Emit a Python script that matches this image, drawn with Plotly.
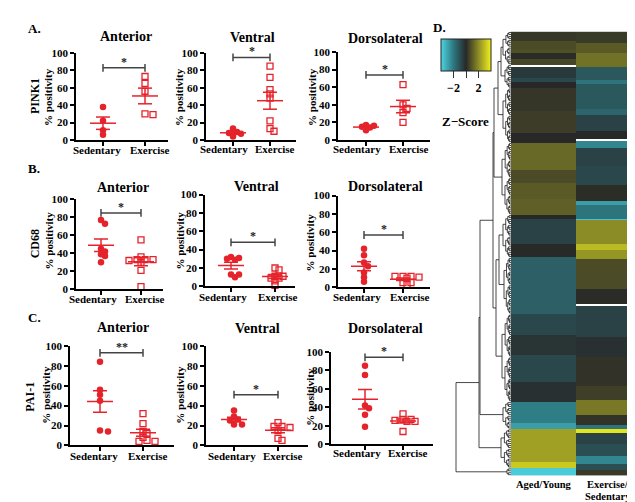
import numpy as np
import plotly.graph_objects as go

W, H = 635, 502
SERIF = "Liberation Serif"
RED = "#E5232B"

groups = ["Sedentary", "Exercise"]
regions = ["Anterior", "Ventral", "Dorsolateral"]
proteins = ["PINK1", "CD68", "PAI-1"]

# ---- % positivity values ----
pink1_anterior_sed = [38, 22, 11, 6]
pink1_anterior_ex = [73, 65, 56, 29, 30]
pink1_ventral_sed = [13, 9, 8, 7, 4]
pink1_ventral_ex = [85, 72, 58, 53, 48, 22, 13, 10]
pink1_dorsolateral_sed = [17, 16, 15, 14, 11]
pink1_dorsolateral_ex = [63, 40, 36, 31, 20]

cd68_anterior_sed = [77, 73, 45, 42, 39, 37, 30]
cd68_anterior_ex = [55, 36, 33, 33, 32, 33, 30, 21, 3]
cd68_ventral_sed = [32, 29, 30, 31, 13, 10, 13]
cd68_ventral_ex = [18, 20, 11, 9, 9, 11, 6, 1]
cd68_dorsolateral_sed = [42, 35, 27, 23, 16, 11, 6]
cd68_dorsolateral_ex = [12, 11, 10, 12, 12, 5, 5, 3]

pai1_anterior_sed = [84, 56, 51, 45, 15, 14]
pai1_anterior_ex = [32, 22, 14, 12, 8, 5, 4, 4]
pai1_ventral_sed = [35, 29, 26, 25, 21, 21]
pai1_ventral_ex = [23, 19, 18, 19, 15, 7, 5]
pai1_dorsolateral_sed = [85, 75, 42, 39, 32, 19]
pai1_dorsolateral_ex = [33, 27, 25, 25, 26, 27, 14]

bracket_levels = [83, 95, 74, 85, 48, 57, 93, 51, 94]
bracket_stars = ["*", "*", "*", "*", "*", "*", "**", "*", "*"]

y_ticks = [0, 20, 40, 60, 80, 100]

# ---- heatmap z-scores, run-length encoded (rows top -> bottom) ----
aged_young_counts = [5, 4, 2, 3, 3, 1, 6, 2, 3, 12, 11, 5, 14, 7, 8, 8, 2, 13, 7, 29,
                     11, 10, 14, 10, 11, 3, 17, 3, 4]
aged_young_values = [0.3, 0.7, 0.8, 0.05, 0.6, None, -0.4, -0.8, 0.0, 0.26, 0.4, 0.0,
                     1.3, 0.7, 1.0, 1.1, 0.0, -0.65, -0.05, -1.4,
                     -0.8, -0.3, -0.8, -0.2, -2.1, -2.8, 2.4, 3.2, -3.8]
exercise_counts = [6, 5, 7, 7, 2, 13, 3, 8, 4, 1, 4, 9, 10, 8, 2, 7, 1, 12, 3, 5, 15, 8, 1,
                   16, 10, 15, 7, 8, 5, 2, 2, 6, 6, 4, 3, 3]
exercise_values = [0.36, 1.0, 1.45, -1.2, -1.9, -1.2, -1.55, -0.65, 0.0, None, -2.3, -0.65,
                   -0.8, 0.1, -2.8, -1.9, -3.6, 2.0, 2.9, 2.2, 0.7, 0.05, None,
                   -0.65, -0.2, 0.2, 0.45, 1.6, 0.2, -1.9, 3.7, -0.65, -0.95, -2.3, -0.95, 0.36]
heat_columns = ["Aged/Young", "Exercise/", "Sedentary"]
colorbar_ticks = [-2, 0, 2]
colorbar_ticktext = ["\u22122", "", "2"]

# dendrogram: leaf-cluster sizes (rows), their internal heights, and merge tree
cluster_sizes = [17, 12, 28, 37, 22, 29, 45, 14, 20, 4]
cluster_heights = [8, 6, 8, 9, 8, 7, 9, 8, 10, 4]
merge_tree = [[[[[[[0, 1, 10], 2, 13], 3, 17], [[4, 5, 12], 6, 15], 18], 7, 31], 8, 32], 9, 55]

series = [
    (pink1_anterior_sed, pink1_anterior_ex), (pink1_ventral_sed, pink1_ventral_ex),
    (pink1_dorsolateral_sed, pink1_dorsolateral_ex),
    (cd68_anterior_sed, cd68_anterior_ex), (cd68_ventral_sed, cd68_ventral_ex),
    (cd68_dorsolateral_sed, cd68_dorsolateral_ex),
    (pai1_anterior_sed, pai1_anterior_ex), (pai1_ventral_sed, pai1_ventral_ex),
    (pai1_dorsolateral_sed, pai1_dorsolateral_ex),
]

# ---- layout geometry (pixels): x0, x1, sed centre, ex centre, y top, y bottom ----
geo = [
    (68, 160, 95, 137, 40, 129),
    (198, 288, 225, 262, 40, 129),
    (330, 422, 358, 395, 39, 129),
    (68, 155, 93, 133, 190, 282),
    (197, 287, 223, 267, 185, 279),
    (330, 422, 356, 395, 186, 280),
    (62, 166, 92, 135, 340, 442),
    (198, 300, 226, 270, 340, 442),
    (323, 425, 357, 395, 346, 441),
]
# category label centres (pixels): sed x, ex x, y
label_pos = [
    (89, 142, 139), (216, 267, 138), (349, 401, 138),
    (85, 137, 292), (215, 270, 290), (349, 402, 290),
    (86, 140, 453), (224, 275, 453), (349, 400, 450),
]


def px2x(px):
    return px / W


def px2y(py):
    return 1 - py / H


def font(size, color="black", bold=True):
    return dict(family=SERIF, size=size, color=color, weight="bold" if bold else "normal")


def swarm(vals, ppu_y, ppu_x, step=4.0, mind=4.2):
    order = sorted(range(len(vals)), key=lambda i: -vals[i])
    placed = []
    offs = [0.0] * len(vals)
    for i in order:
        y = vals[i] * ppu_y
        for c in [0, 1, -1, 2, -2, 3, -3, 4, -4]:
            x = c * step
            if all((x - px) ** 2 + (y - py) ** 2 >= mind ** 2 for px, py in placed):
                break
        placed.append((x, y))
        offs[i] = x / ppu_x
    return offs


fig = go.Figure()
lay = {}
annotations = []

for k in range(9):
    n = k + 1
    sfx = "" if n == 1 else str(n)
    xa, ya = "x" + sfx, "y" + sfx
    x0, x1, cs, ce, yt, yb = geo[k]
    span = ce - cs
    ppu = (yb - yt) / 100.0
    sed, ex = series[k]
    for gi, (vals, sym) in enumerate([(sed, "circle"), (ex, "square-open")]):
        offs = swarm(vals, ppu, span)
        xs = [gi + o for o in offs]
        if sym == "circle":
            mk = dict(symbol="circle", size=6.5, color=RED, line=dict(width=0))
        else:
            mk = dict(symbol="square-open", size=6, color=RED, line=dict(width=1.3, color=RED))
        fig.add_trace(go.Scatter(x=xs, y=vals, mode="markers", marker=mk, xaxis=xa, yaxis=ya,
                                 cliponaxis=False, showlegend=False, hoverinfo="skip"))
        m = float(np.mean(vals))
        s = float(np.std(vals, ddof=1) / np.sqrt(len(vals)))
        wm, wc = 13.0 / span, 7.0 / span
        lx = [gi - wm, gi + wm, None, gi - wc, gi + wc, None, gi - wc, gi + wc, None, gi, gi]
        ly = [m, m, None, m + s, m + s, None, m - s, m - s, None, m - s, m + s]
        fig.add_trace(go.Scatter(x=lx, y=ly, mode="lines", line=dict(color=RED, width=1.5),
                                 xaxis=xa, yaxis=ya, cliponaxis=False, showlegend=False,
                                 hoverinfo="skip"))
    b = bracket_levels[k]
    d = 4.0 / ppu
    fig.add_trace(go.Scatter(x=[0, 1, None, 0, 0, None, 1, 1], y=[b, b, None, b - d, b + d, None, b - d, b + d],
                             mode="lines", line=dict(color="#444444", width=1.5), xaxis=xa, yaxis=ya,
                             cliponaxis=False, showlegend=False, hoverinfo="skip"))
    annotations.append(dict(x=0.5, y=b, xref=xa, yref=ya, text=bracket_stars[k], showarrow=False,
                            yanchor="bottom", yshift=-3, font=font(12, "#222222", bold=True)))
    lay["xaxis" + sfx] = dict(domain=[px2x(x0), px2x(x1)], range=[(x0 - cs) / span, (x1 - cs) / span],
                              anchor=ya, tickvals=[0, 1], showticklabels=False, ticks="outside",
                              ticklen=4, tickwidth=1.5, tickcolor="black", showline=True, linewidth=1.5,
                              linecolor="black", showgrid=False, zeroline=False, fixedrange=True)
    lay["yaxis" + sfx] = dict(domain=[px2y(yb), px2y(yt)], range=[0, 100], anchor=xa, tickvals=y_ticks,
                              ticks="outside", ticklen=4, tickwidth=1.5, tickcolor="black",
                              showline=True, linewidth=1.5, linecolor="black", showgrid=False,
                              zeroline=False, tickfont=font(11), fixedrange=True)
    lsx, lex, ly_ = label_pos[k]
    for t, lx_ in zip(groups, (lsx, lex)):
        annotations.append(dict(x=px2x(lx_), y=px2y(ly_), xref="paper", yref="paper", text=t,
                                showarrow=False, xanchor="center", yanchor="middle", font=font(11)))

# ---- heatmap ----
def expand(counts, values):
    out = []
    for c, v in zip(counts, values):
        out.extend([v] * c)
    return out

left = expand(aged_young_counts, aged_young_values)
right = expand(exercise_counts, exercise_values)
N = min(len(left), len(right))
z = [[left[i], right[i]] for i in range(N)]

colorscale = [[0.0, "rgb(78,212,226)"], [0.25, "rgb(45,120,128)"], [0.5, "rgb(40,40,40)"],
              [0.75, "rgb(140,140,38)"], [1.0, "rgb(242,242,28)"]]
fig.add_trace(go.Heatmap(
    z=z, x=[0, 1], y=list(range(N)), xaxis="x10", yaxis="y10", colorscale=colorscale,
    zmin=-4, zmax=4, hoverinfo="skip",
    colorbar=dict(orientation="h", x=px2x(433), xanchor="left", y=px2y(26), yanchor="top",
                  len=50, lenmode="pixels", thickness=32, thicknessmode="pixels",
                  tickvals=colorbar_ticks, ticktext=colorbar_ticktext, ticks="outside", ticklen=7,
                  tickwidth=1.2, tickcolor="#333333", outlinewidth=1, outlinecolor="#222222",
                  tickfont=font(12), xpad=0, ypad=0)))

# ---- dendrogram ----
starts = np.cumsum([0] + cluster_sizes[:-1])
dx, dy = [], []


def seg(xa_, ya_, xb_, yb_):
    dx.extend([xa_, xb_, None])
    dy.extend([ya_, yb_, None])


def build_rows(a, b, hmax, total):
    size = b - a
    if size == 1:
        return (float(a), 0.0)
    mid = (a + b) // 2
    h = hmax * (size / total) ** 0.6
    yl, hl = build_rows(a, mid, hmax, total)
    yr, hr = build_rows(mid, b, hmax, total)
    seg(hl, yl, h, yl)
    seg(hr, yr, h, yr)
    seg(h, yl, h, yr)
    return ((yl + yr) / 2, h)


def build(node):
    if isinstance(node, int):
        a = int(starts[node])
        return build_rows(a, a + cluster_sizes[node], cluster_heights[node], cluster_sizes[node])
    l, r, h = node
    yl, hl = build(l)
    yr, hr = build(r)
    seg(hl, yl, h, yl)
    seg(hr, yr, h, yr)
    seg(h, yl, h, yr)
    return ((yl + yr) / 2, h)


build(merge_tree)
fig.add_trace(go.Scatter(x=dx, y=dy, mode="lines", line=dict(color="#1a1a1a", width=0.8),
                         xaxis="x11", yaxis="y10", showlegend=False, hoverinfo="skip"))

lay["xaxis10"] = dict(domain=[px2x(503), px2x(632)], range=[-0.5, 1.5], anchor="y10", visible=False)
lay["yaxis10"] = dict(domain=[px2y(473), px2y(18)], range=[N - 0.5, -0.5], anchor="x10", visible=False)
lay["xaxis11"] = dict(domain=[px2x(445), px2x(503)], range=[58, 0], anchor="y10", visible=False)

# ---- text ----
panel_letters = [("A.", 18, 15), ("B.", 18, 158), ("C.", 18, 311), ("D.", 423, 14)]
for t, x, y in panel_letters:
    annotations.append(dict(x=px2x(x), y=px2y(y), xref="paper", yref="paper", text=t, showarrow=False,
                            xanchor="left", yanchor="middle", font=font(13)))

title_pos = [(118, 23), (244, 24), (377, 25), (115, 178), (248, 177), (377, 177),
             (115, 321), (249, 322), (377, 322)]
for k, (x, y) in enumerate(title_pos):
    annotations.append(dict(x=px2x(x), y=px2y(y), xref="paper", yref="paper", text=regions[k % 3],
                            showarrow=False, xanchor="center", yanchor="middle", font=font(14)))

ytitle_pos = [(40, 85), (171, 85), (304, 85), (41, 232), (172, 232), (302, 234),
              (38, 390), (172, 390), (302, 392)]
for x, y in ytitle_pos:
    annotations.append(dict(x=px2x(x), y=px2y(y), xref="paper", yref="paper", text="% positivity",
                            textangle=-90, showarrow=False, xanchor="center", yanchor="middle",
                            font=font(11)))
protein_pos = [(27, 84), (27, 236), (22, 392)]
for p, (x, y) in zip(proteins, protein_pos):
    annotations.append(dict(x=px2x(x), y=px2y(y), xref="paper", yref="paper", text=p, textangle=-90,
                            showarrow=False, xanchor="center", yanchor="middle", font=font(12)))

heat_label_pos = [(536, 482), (600, 482), (600, 494)]
for t, (x, y) in zip(heat_columns, heat_label_pos):
    annotations.append(dict(x=px2x(x), y=px2y(y), xref="paper", yref="paper", text=t, showarrow=False,
                            xanchor="center", yanchor="middle", font=font(10.5)))
annotations.append(dict(x=px2x(457), y=px2y(110), xref="paper", yref="paper", text="Z\u2212Score",
                        showarrow=False, xanchor="center", yanchor="middle", font=font(13)))

fig.update_layout(width=W, height=H, autosize=False, margin=dict(l=0, r=0, t=0, b=0),
                  paper_bgcolor="white", plot_bgcolor="white", showlegend=False,
                  annotations=annotations, **lay)

fig.write_html("out.html")
